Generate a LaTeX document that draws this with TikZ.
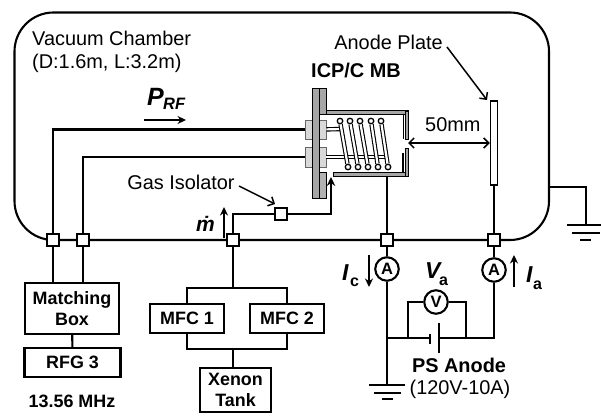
\documentclass[tikz,border=0pt]{standalone}
\usepackage{fontspec}
\usetikzlibrary{arrows.meta}
\setmainfont{Liberation Sans}
\newcommand{\regsize}{\fontsize{19.9}{21}\selectfont}
\newcommand{\boldsize}{\fontsize{17.9}{21}\selectfont\bfseries}
\tikzset{
	wire/.style={line width=2.1pt},
	thinarrow/.style={line width=1.5pt,>={Straight Barb[length=5pt,width=10pt]}},
	fillarrow/.style={line width=1.9pt,-{Stealth[length=8.5pt,width=8pt]}},
	junction/.style={draw,line width=1.8pt,rectangle,fill=white,inner sep=0pt,minimum size=11.5pt},
	meter/.style={draw,line width=2.1pt,circle,fill=white,inner sep=0pt,minimum size=23.5pt,font=\fontsize{16.5}{16.5}\selectfont\bfseries},
	boxnode/.style={draw,line width=2.1pt,rectangle,fill=white,inner sep=0pt,align=center,font=\boldsize},
	label/.style={inner sep=0pt,font=\regsize},
	boldlabel/.style={inner sep=0pt,font=\regsize\bfseries},
	plate/.style={draw,line width=0.8pt,fill=gray!70},
	block/.style={draw=gray!80!black,line width=0.8pt,fill=gray!30},
	tube/.style={draw,line width=1.1pt,double=white,double distance=2.2pt},
	turn/.style={draw,line width=1.3pt,circle,fill=white,inner sep=0pt,minimum size=5.5pt},
}
\begin{document}
\begin{tikzpicture}[x=1pt,y=-1pt]
	\useasboundingbox (0,0) rectangle (601,417);
	% chamber wall with the bus along its lower edge
	\draw[wire,rounded corners=39pt] (14.5,12.5) rectangle (549,240);
	% source hardware
	\draw[plate] (326,110.5) rectangle (408,114);
	\draw[plate] (405,111) rectangle (408,139);
	\draw[line width=1.1pt] (403.5,114) -- (403.5,139);
	\draw[plate] (333,172.5) rectangle (408,176);
	\draw[plate] (405,148) rectangle (408,176);
	\draw[line width=1.1pt] (403,153) -- (403,172);
	\draw[plate] (319,88) rectangle (326,114);
	\draw[plate,fill=gray!60] (319,172) rectangle (326,198);
	\node[block,rectangle,inner sep=0pt,minimum width=8pt,minimum height=19pt] (F1L)at(309,129.5) {};
	\node[block,rectangle,inner sep=0pt,minimum width=7pt,minimum height=19pt] (F1R)at(322.5,129.5) {};
	\node[block,rectangle,inner sep=0pt,minimum width=8pt,minimum height=20pt] (F2L)at(309,157) {};
	\node[block,rectangle,inner sep=0pt,minimum width=7pt,minimum height=20pt] (F2R)at(322.5,157) {};
	\draw[plate] (312.5,88) rectangle (319,198);
	% junctions
	\node[junction] (J1)at(53,240) {};
	\node[junction] (J2)at(83,240) {};
	\node[junction] (J3)at(233,240) {};
	\node[junction] (J4)at(387,240) {};
	\node[junction] (J5)at(494,240) {};
	\node[junction] (ISO)at(281,214) {};
	% coil
	\coordinate (L1)at(342,129);
	\coordinate (L2)at(386,157);
	\draw[tube] (F1R) -- (L1);
	\draw[tube] (F2R) -- (L2);
	\node[turn] (T1)at(340,121) {};
	\node[turn] (T2)at(350,121) {};
	\node[turn] (T3)at(360,121) {};
	\node[turn] (T4)at(371,121) {};
	\node[turn] (T5)at(381,121) {};
	\node[turn] (B1)at(348,167) {};
	\node[turn] (B2)at(358,167) {};
	\node[turn] (B3)at(368,167) {};
	\node[turn] (B4)at(378,167) {};
	\node[turn] (B5)at(388,167) {};
	\draw[tube] (T1) -- (B1);
	\draw[tube] (T2) -- (B2);
	\draw[tube] (T3) -- (B3);
	\draw[tube] (T4) -- (B4);
	\draw[tube] (T5) -- (B5);
	% anode plate
	\node[draw,line width=1.5pt,rectangle,fill=white,inner sep=0pt,minimum width=7pt,minimum height=84pt] (AP)at(494,143) {};
	\coordinate (BW)at(387,176);
	\draw[wire] (J4) -- (BW);
	\draw[wire] (J5) -- (AP);
	% rf lines
	\draw[wire] (J1) |- (F1L);
	\draw[wire] (J2) |- (F2L);
	% gas line
	\coordinate (GI)at(331,177);
	\draw[wire] (J3) |- (ISO);
	\draw[wire,-{Stealth[length=9pt,width=8.5pt]}] (ISO) -| (GI);
	% boxes
	\node[boxnode,minimum width=94pt,minimum height=51pt] (MB)at(72,308.5) {Matching\\[0.5pt]Box};
	\node[boxnode,minimum width=96pt,minimum height=29pt] (RFG)at(72.5,362.5) {RFG 3};
	\node[boxnode,minimum width=74pt,minimum height=29pt] (MFC1)at(187,318.5) {MFC 1};
	\node[boxnode,minimum width=74pt,minimum height=29pt] (MFC2)at(287,318.5) {MFC 2};
	\node[boxnode,minimum width=71pt,minimum height=44pt] (XT)at(235.5,390) {Xenon\\[0.5pt]Tank};
	\coordinate (MT)at(233,288);
	\coordinate (MD)at(233,349);
	\draw[wire] (J1) -- (J1 |- MB.north);
	\draw[wire] (J2) -- (J2 |- MB.north);
	\draw[wire] (MB) -- (RFG);
	\draw[wire] (J3) -- (MT);
	\draw[wire] (MFC1.north) |- (MT) -| (MFC2.north);
	\draw[wire] (MFC1.south) |- (MD) -| (MFC2.south);
	\draw[wire] (MD) -- (MD |- XT.north);
	% meters and supply
	\node[meter] (AC)at(387,269) {A};
	\node[meter] (AA)at(494,270) {A};
	\node[meter] (VM)at(436,302) {V};
	\coordinate (GL)at(387,385);
	\coordinate (N1)at(387,338);
	\coordinate (N2)at(408,338);
	\coordinate (N3)at(466,338);
	\coordinate (PN)at(430,338);
	\coordinate (PP)at(439,338);
	\draw[wire] (J4) -- (AC);
	\draw[wire] (J5) -- (AA);
	\draw[wire] (AC) -- (GL);
	\draw[wire] (AA) |- (PP);
	\draw[wire] (N1) -- (PN);
	\draw[wire] (N2) |- (VM);
	\draw[wire] (N3) |- (VM);
	\draw[wire] (430,334) -- (430,344);
	\draw[wire] (439,323) -- (439,353);
	% grounds
	\draw[wire] (369,385) -- (405,385);
	\draw[wire] (374,393) -- (401,393);
	\draw[wire] (382,399) -- (393,399);
	\coordinate (GT)at(549,187);
	\coordinate (GR)at(586,225);
	\draw[wire] (GT) -| (GR);
	\draw[wire] (567,225) -- (601,225);
	\draw[wire] (572,233) -- (600,233);
	\draw[wire] (580,240) -- (591,240);
	% texts
	\node[label,anchor=west] (VC)at(32,38) {Vacuum Chamber};
	\node[label,anchor=west] (DL)at(32,63) {(D:1.6m, L:3.2m)};
	\node[boldlabel] (ICP)at(356,70) {ICP/C MB};
	\node[label,anchor=east] (APT)at(443,42) {Anode Plate};
	\node[label] (GIT)at(181,182) {Gas Isolator};
	\node[label,anchor=west] (MM)at(425,125) {50mm};
	\node[boldlabel] (PS)at(459,365) {PS Anode};
	\node[label] (PSV)at(460,389) {(120V-10A)};
	\node[inner sep=0pt,font=\boldsize] (FRQ)at(72,401) {13.56 MHz};
	\node[inner sep=0pt,font=\fontsize{25}{25}\selectfont\bfseries\itshape,anchor=base west] (PRF)at(147,105) {P};
	\node[inner sep=0pt,font=\fontsize{16.5}{16.5}\selectfont\bfseries\itshape,anchor=base west] (RF)at(163,110) {RF};
	\node[inner sep=0pt,font=\fontsize{21}{21}\selectfont\bfseries\itshape,anchor=base] (MDOT)at(205.5,231) {\.m};
	\node[inner sep=0pt,font=\fontsize{23}{23}\selectfont\bfseries\itshape,anchor=base west] (IC)at(342,280) {I};
	\node[inner sep=0pt,font=\fontsize{16}{16}\selectfont\bfseries,anchor=base west] (ICS)at(350,286) {c};
	\node[inner sep=0pt,font=\fontsize{23}{23}\selectfont\bfseries\itshape,anchor=base west] (VA)at(425,278) {V};
	\node[inner sep=0pt,font=\fontsize{16}{16}\selectfont\bfseries,anchor=base west] (VAS)at(439,285) {a};
	\node[inner sep=0pt,font=\fontsize{23}{23}\selectfont\bfseries\itshape,anchor=base west] (IA)at(526,282) {I};
	\node[inner sep=0pt,font=\fontsize{16}{16}\selectfont\bfseries,anchor=base west] (IAS)at(533,289) {a};
	% pointers
	\coordinate (PA)at(144,120);
	\coordinate (PB)at(186,120);
	\draw[fillarrow] (PA) -- (PB);
	\coordinate (MA)at(224,238);
	\coordinate (MC)at(224,207);
	\draw[fillarrow] (MA) -- (MC);
	\coordinate (CA)at(369,255);
	\coordinate (CB)at(369,287);
	\draw[fillarrow] (CA) -- (CB);
	\coordinate (IAA)at(514,287);
	\coordinate (IAB)at(514,255);
	\draw[fillarrow] (IAA) -- (IAB);
	\coordinate (GIA)at(239,186);
	\coordinate (GIB)at(275,204);
	\draw[thinarrow,->] (GIA) -- (GIB);
	\coordinate (APA)at(447,47);
	\coordinate (APB)at(487,100);
	\draw[thinarrow,->] (APA) -- (APB);
	\coordinate (DA)at(408,143);
	\draw[thinarrow,<->] (DA) -- (AP.west |- DA);
\end{tikzpicture}
\end{document}
